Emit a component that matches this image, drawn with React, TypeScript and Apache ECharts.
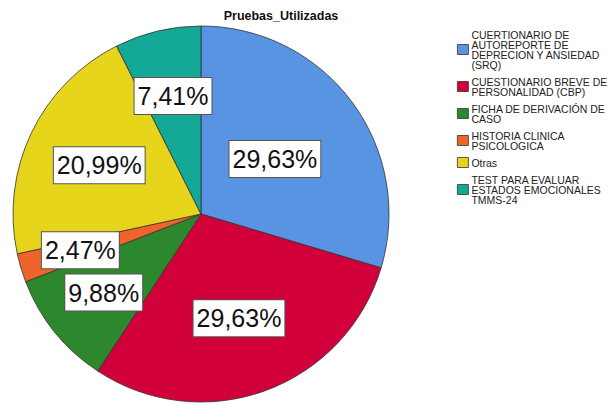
import React, { useEffect, useRef } from "react";
import * as echarts from "echarts";

const TITLE = "Pruebas_Utilizadas";
const CATEGORIES = [
  "CUERTIONARIO DE AUTOREPORTE DE DEPRECION Y ANSIEDAD (SRQ)",
  "CUESTIONARIO BREVE DE PERSONALIDAD (CBP)",
  "FICHA DE DERIVACIÓN DE CASO",
  "HISTORIA CLINICA PSICOLOGICA",
  "Otras",
  "TEST PARA EVALUAR ESTADOS EMOCIONALES TMMS-24",
];
const VALUES = [29.63, 29.63, 9.88, 2.47, 20.99, 7.41];
const COLORS = ["#5894e2", "#d2003a", "#2d882d", "#f0632a", "#e6d51a", "#14a897"];

// layout constants (not data)
const CENTER = [201, 214];
const RADIUS = 188;
const LABEL_RADII = [0.49, 0.59, 0.665, 0.67, 0.6, 0.645];

function wrap(s: string, max: number): string {
  const words = s.split(" ");
  const lines: string[] = [];
  let cur = "";
  for (const w of words) {
    if (!cur) cur = w;
    else if ((cur + " " + w).length <= max) cur += " " + w;
    else {
      lines.push(cur);
      cur = w;
    }
  }
  if (cur) lines.push(cur);
  return lines.join("\n");
}

export default function App() {
  const ref = useRef<HTMLDivElement>(null);
  useEffect(() => {
    document.body.style.margin = "0";
    if (!ref.current) return;
    const chart = echarts.init(ref.current, null, { renderer: "svg" });
    chart.setOption({
      animation: false,
      backgroundColor: "#ffffff",
      title: {
        text: TITLE,
        left: 281,
        textAlign: "center",
        top: 9,
        padding: 0,
        textStyle: {
          fontFamily: "Liberation Sans, Arial, sans-serif",
          fontSize: 12.5,
          fontWeight: "bold",
          color: "#111",
        },
      },
      legend: {
        orient: "vertical",
        left: 457,
        top: 29,
        padding: 0,
        itemWidth: 11,
        itemHeight: 10,
        itemGap: 6,
        icon: "rect",
        selectedMode: false,
        formatter: (name: string) => wrap(name, 22),
        itemStyle: { borderColor: "#333", borderWidth: 0.8 },
        textStyle: {
          fontFamily: "Liberation Sans, Arial, sans-serif",
          fontSize: 10.5,
          lineHeight: 10,
          color: "#222",
          padding: [0, 0, 0, -2],
        },
        data: CATEGORIES,
      },
      series: [
        {
          type: "pie",
          center: [CENTER[0], CENTER[1]],
          radius: [0, RADIUS],
          startAngle: 90,
          clockwise: true,
          avoidLabelOverlap: false,
          itemStyle: { borderColor: "#333", borderWidth: 0.8 },
          emphasis: { disabled: true },
          label: {
            show: true,
            position: "inside",
            formatter: (p: any) => p.value.toFixed(2).replace(".", ",") + "%",
            fontFamily: "Liberation Sans, Arial, sans-serif",
            fontSize: 25,
            lineHeight: 28,
            color: "#111",
            backgroundColor: "#ffffff",
            borderColor: "#555",
            borderWidth: 1,
            padding: [5, 3, 3, 3],
          },
          labelLine: { show: false },
          labelLayout: (p: any) => {
            const r = p.labelRect;
            const lx = r.x + r.width / 2;
            const ly = r.y + r.height / 2;
            const vx = lx - CENTER[0];
            const vy = ly - CENTER[1];
            const d = Math.sqrt(vx * vx + vy * vy) || 1;
            const target = LABEL_RADII[p.dataIndex] * RADIUS;
            return { dx: (vx / d) * target - vx, dy: (vy / d) * target - vy };
          },
          data: CATEGORIES.map((name, i) => ({
            name,
            value: VALUES[i],
            itemStyle: { color: COLORS[i] },
          })),
        },
      ],
    });
    return () => chart.dispose();
  }, []);
  return <div ref={ref} style={{ width: 609, height: 405 }} />;
}
